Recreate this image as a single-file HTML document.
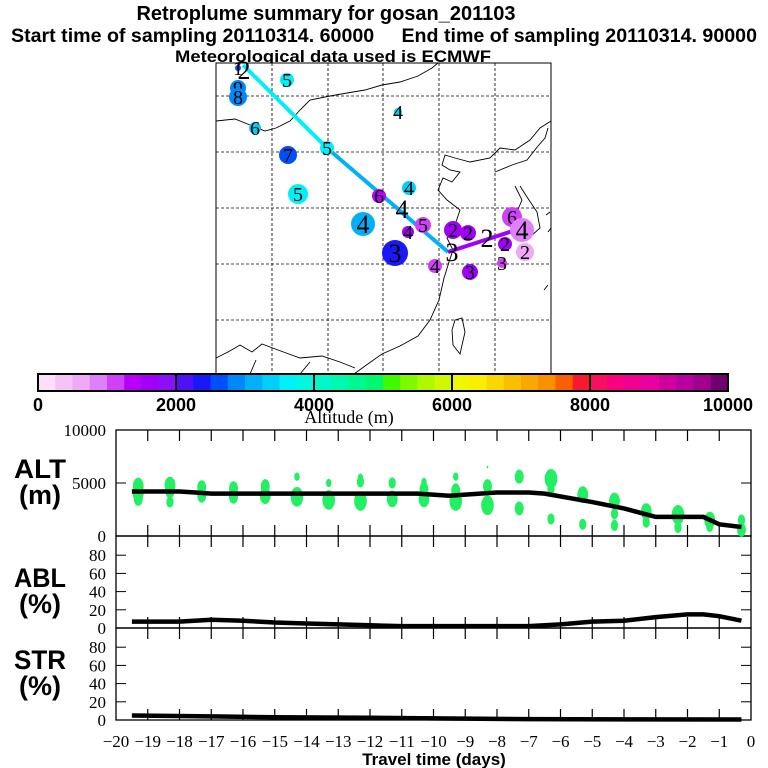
<!DOCTYPE html>
<html><head><meta charset="utf-8"><style>
body{margin:0;background:#fff;width:768px;height:768px;overflow:hidden}
svg{display:block}
.t{font-family:"Liberation Sans",sans-serif;font-weight:bold}
.s{font-family:"Liberation Serif",serif}
</style></head><body>
<svg id="c" width="768" height="768">
<text class="t" x="326" y="20" font-size="20" text-anchor="middle">Retroplume summary for gosan_201103</text>
<text class="t" x="384" y="42" font-size="19" text-anchor="middle" textLength="746" lengthAdjust="spacingAndGlyphs" xml:space="preserve">Start time of sampling 20110314. 60000     End time of sampling 20110314. 90000</text>
<text class="t" x="333" y="62" font-size="17" text-anchor="middle" textLength="316" lengthAdjust="spacingAndGlyphs">Meteorological data used is ECMWF</text>
<g id="map"></g>
<g id="cbar"></g>
<g id="panels"></g>
</svg>
<script>
const NS="http://www.w3.org/2000/svg";
function mk(p,t,a,txt){const e=document.createElementNS(NS,t);for(const k in a)e.setAttribute(k,a[k]);if(txt!==undefined)e.textContent=txt;p.appendChild(e);return e;}
const colors=["#fde0f8","#f6c3f6","#eeaaf6","#e080f8","#d040f8","#b800f8","#a000f8","#8a10f8","#5010f8","#1818f8","#0050f8","#0088f8","#00b0f8","#00d0f8","#00f0f8","#00f8e0","#00f8c8","#00f8b0","#00f890","#00f870","#40f800","#80f800","#b0f800","#d0f800","#f0f800","#f8f000","#f8d800","#f8c000","#f8a800","#f89000","#f86000","#f81830","#f81060","#f80080","#f00090","#e800a0","#d000a0","#b800a0","#a00090","#700070"];
function altColor(a){return colors[Math.max(0,Math.min(39,Math.floor(a/250)))];}
// ---- Data ----
const cbTicks=[0,2000,4000,6000,8000,10000];
const days=[-20,-19,-18,-17,-16,-15,-14,-13,-12,-11,-10,-9,-8,-7,-6,-5,-4,-3,-2,-1,0];
const altLineT=[-19.5,-18,-17.5,-17,-12,-10.5,-9.5,-9,-8,-7,-6.5,-5,-4,-3,-2,-1.5,-1,-0.3];
const altLineV=[4200,4200,4100,4000,4000,4000,3800,3900,4100,4100,4000,3200,2600,1800,1800,1800,1100,850];
const blobT=[-19.3,-18.3,-17.3,-16.3,-15.3,-14.3,-13.3,-12.3,-11.3,-10.3,-9.3,-8.3,-7.3,-6.3,-5.3,-4.3,-3.3,-2.3,-1.3,-0.3];
const blobAlt=[[4700,4000,3500],[4800,4200,3200],[4600,3800],[4500,3700],[4700,3800],[5600,3700],[5000,3400],[5500,5100,3300],[5000,3500],[5100,4400,3500],[5600,4300,3300],[6500,4700,2900],[5600,2600],[5400,4400,1600],[3900,1100],[3300,2100,1000],[2300,1300],[2000,800],[1500,900],[1500,600]];
const blobSize=[[6,6,5],[6,5,4],[5,5],[5,5],[5,6],[3,7],[3,7],[3,4,7],[4,6],[3,5,6],[3,5,7],[1,5,7],[5,5],[7,4,4],[6,4],[6,4,4],[6,4],[7,4],[6,4],[4,5]];
const ablT=[-19.5,-18,-17,-16,-15,-14,-13,-12,-11,-10,-9,-8,-7,-6,-5,-4,-3,-2,-1.5,-1,-0.3];
const ablV=[7,7,9,8,6,5,4,3,2,2,2,2,2,4,7,8,12,15,15,13,8];
const strT=[-19.5,-17,-15,-12,-9,-7,-4,-0.3];
const strV=[5,4,3,2.5,1.5,1,0.7,0.5];
const altTicks=[0,5000,10000];
const pctTicks=[0,20,40,60,80];
// map markers: [x,y,label,altitude,radius]
const mapPts=[[238,68,"1",2600,3],[244,70,"2",2800,0],[287,80,"5",3700,7],[238,88,"9",2800,8],[238,97,"8",2900,9],[398,112,"4",3300,4],[255,128,"6",3400,6],[327,148,"5",3600,7],[288,155,"7",2600,9],[298,194,"5",3700,10],[379,196,"6",1300,7],[409,188,"4",3300,7],[402,209,"4",-1,0],[363,224,"4",3200,12],[423,225,"5",1100,8],[408,232,"4",1700,6],[395,253,"3",2400,13],[453,230,"2",1700,9],[468,233,"2",1700,8],[487,238,"2",-1,0],[452,252,"3",-1,0],[435,266,"4",1200,7],[470,272,"3",1600,8],[502,263,"3",1100,5],[505,244,"2",1500,7],[525,252,"2",600,9],[512,217,"6",1100,10],[522,230,"4",900,12]];
const trajX=[243,327,448,522];
const trajY=[65,148,252,228];
const trajAlt=[3600,3000,1600];
// ---- Map ----
const map=document.getElementById('map');
mk(map,'rect',{x:216,y:63,width:335,height:311,fill:'#fff',stroke:'#000','stroke-width':1});
[272,328,383,439,495].forEach(x=>{const l=mk(map,'line',{x1:x,y1:63,x2:x,y2:374,stroke:'#000','stroke-dasharray':'3,2','stroke-width':0.8});});
[96,152,208,264,320].forEach(y=>{const l=mk(map,'line',{x1:216,y1:y,x2:551,y2:y,stroke:'#000','stroke-dasharray':'3,2','stroke-width':0.8});});
const coast=["M216,121 L235,119 250,125 265,131 276,128 290,121 300,110 310,100 330,96 347,93 365,90 382,85 400,82 418,76 432,68 438,63",
"M551,121 L540,128 530,140 515,150 500,148 490,158 470,162 455,158 445,155 442,165 450,170 460,172 452,182 443,178 438,190 447,200 460,210 456,222 447,238 453,250 449,262 444,278 439,300 430,320 418,336 400,346 382,354 365,366 354,374",
"M495,172 L512,165 527,160 538,146 545,138 548,128 M515,186 L522,200 516,214 520,240 530,237 540,228 537,212 527,197 520,186",
"M455,320 L462,318 465,332 460,354 453,345 452,330 Z",
"M546,215 L550,212 M548,232 L551,228 M544,290 L548,285",
"M216,358 L228,352 240,345 252,352 262,344 278,350 300,358 322,356 340,362 355,368 M300,374 L310,362 M250,374 L256,360"];
coast.forEach(d=>{const p=mk(map,'path',{d:d,fill:'none',stroke:'#000','stroke-width':0.9});});
for(let i=0;i<trajAlt.length;i++){const l=mk(map,'line',{x1:trajX[i],y1:trajY[i],x2:trajX[i+1],y2:trajY[i+1],stroke:altColor(trajAlt[i]),'stroke-width':4});
}
mapPts.forEach(p=>{const g=mk(map,'g',{});

if(p[4]>0&&p[3]>=0)mk(g,'circle',{cx:p[0],cy:p[1],r:p[4],fill:altColor(p[3])});
const big=p[4]===0||p[4]>=12;mk(g,'text',{x:p[0],y:p[1]+(big?9:7),'font-size':big?26:20,'text-anchor':'middle',class:'s',fill:'#000'},p[2]);});
// ---- Colorbar ----
const cb=document.getElementById('cbar');const cx0=38,cx1=728,cy=374,ch=17;
const cw=(cx1-cx0)/40;
colors.forEach((c,i)=>{const r=mk(cb,'rect',{x:cx0+i*cw,y:cy,width:cw+0.5,height:ch,fill:c});});
mk(cb,'rect',{x:cx0,y:cy,width:cx1-cx0,height:ch,fill:'none',stroke:'#000','stroke-width':2});
cbTicks.forEach(v=>{const x=cx0+(cx1-cx0)*v/10000;mk(cb,'line',{x1:x,y1:cy,x2:x,y2:cy+ch,stroke:'#000','stroke-width':2});
const t=mk(cb,'text',{x:x,y:411,'font-size':18,'text-anchor':'middle',class:'t'},v);});
mk(cb,'text',{x:349,y:423,'font-size':18,'text-anchor':'middle',class:'s'},'Altitude (m)');
// ---- Panels ----
const P=document.getElementById('panels');const X0=116,X1=751;
const xs=d=>X0+(d+20)*(X1-X0)/20;
const altY=v=>536-v*106/10000;
const ablY=v=>628-v*0.91;
const strY=v=>720-v*0.91;
function frame(top,bot){mk(P,'rect',{x:X0,y:top,width:X1-X0,height:bot-top,fill:'none',stroke:'#000','stroke-width':1.3});
days.slice(1,20).forEach(d=>{mk(P,'line',{x1:xs(d),y1:top,x2:xs(d),y2:top+11,stroke:'#000','stroke-width':1.2});mk(P,'line',{x1:xs(d),y1:bot,x2:xs(d),y2:bot-11,stroke:'#000','stroke-width':1.2});});}
frame(430,536);frame(536,628);frame(628,720);
function yTicks(ticks,fy){ticks.forEach(v=>{const y=fy(v);if(v>0&&y>431){mk(P,'line',{x1:X0,y1:y,x2:X0+10,y2:y,stroke:'#000'});mk(P,'line',{x1:X1,y1:y,x2:X1-10,y2:y,stroke:'#000'});}
const t=mk(P,'text',{x:106,y:y+6,'font-size':17,'text-anchor':'end',class:'s'},v);});}
yTicks(altTicks,altY);yTicks(pctTicks,ablY);yTicks(pctTicks,strY);
[["ALT",478,52],["(m)",504,42],["ABL",587,52],["(%)",613,42],["STR",669,52],["(%)",695,42]].forEach(a=>{const t=mk(P,'text',{x:40,y:a[1],'font-size':27,'text-anchor':'middle',class:'t',textLength:a[2],lengthAdjust:'spacingAndGlyphs'},a[0]);});
blobT.forEach((d,i)=>{blobAlt[i].forEach((a,j)=>{const r=blobSize[i][j];const e=mk(P,'ellipse',{cx:xs(d),cy:altY(a),rx:r*0.9,ry:r*1.4,fill:'#22f062'});
});});
function line(T,V,fy,name){const p=mk(P,'polyline',{points:T.map((t,i)=>xs(t)+','+fy(V[i])).join(' '),fill:'none',stroke:'#000','stroke-width':4.5});
}
line(altLineT,altLineV,altY,'altitude-line');line(ablT,ablV,ablY,'abl-line');line(strT,strV,strY,'str-line');
days.forEach(d=>{const t=mk(P,'text',{x:xs(d),y:747,'font-size':17,'text-anchor':'middle',class:'s'},d===0?'0':'\u2212'+(-d));
});
mk(P,'text',{x:434,y:765,'font-size':17,'text-anchor':'middle',class:'t'},'Travel time (days)');
</script>
</body></html>
